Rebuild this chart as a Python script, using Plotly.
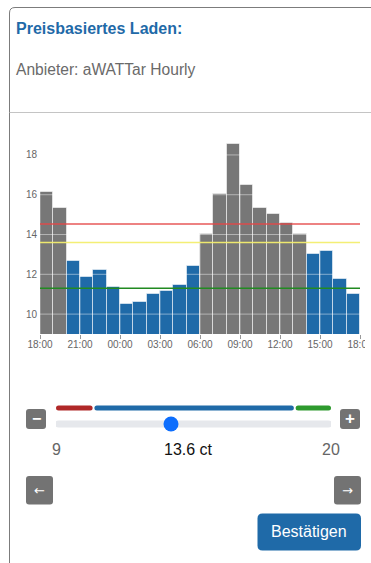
import plotly.graph_objects as go

# ---------------- data ----------------
hours = ["18:00", "19:00", "20:00", "21:00", "22:00", "23:00", "00:00", "01:00",
         "02:00", "03:00", "04:00", "05:00", "06:00", "07:00", "08:00", "09:00",
         "10:00", "11:00", "12:00", "13:00", "14:00", "15:00", "16:00", "17:00"]
prices = [16.13, 15.35, 12.65, 11.85, 12.20, 11.35, 10.50, 10.63,
          11.00, 11.15, 11.47, 12.42, 14.05, 16.05, 18.55, 16.50,
          15.35, 15.03, 14.60, 14.05, 13.03, 13.18, 11.77, 11.03]
x_tick_labels = ["18:00", "21:00", "00:00", "03:00", "06:00", "09:00", "12:00", "15:00", "18:00"]
y_ticks = [10, 12, 14, 16, 18]
upper_line = 14.53
threshold = 13.6
lower_line = 11.3
slider_min = 9
slider_max = 20
title_text = "Preisbasiertes Laden:"
provider_text = "Anbieter: aWATTar Hourly"
button_text = "Bestätigen"
unit = "ct"

# ---------------- styles ----------------
W, H = 371, 563
FONT = "Liberation Sans, Arial, Helvetica, sans-serif"
BLUE = "#1f6aa8"
GREY_BAR = "#777777"
BTN_GREY = "#737373"
x_step = 3

fig = go.Figure()

n = len(prices)
bar_x = list(range(n))
colors = [GREY_BAR if p > threshold else BLUE for p in prices]
fig.add_trace(go.Bar(
    x=bar_x, y=prices, offset=0, width=1,
    marker=dict(color=colors, line=dict(color="rgba(255,255,255,0.55)", width=1)),
    xaxis="x", yaxis="y", hoverinfo="skip", showlegend=False,
))

# grid lines drawn over the bars (as in the reference)
gx, gy = [], []
for v in y_ticks:
    gx += [0, n, None]
    gy += [v, v, None]
x_tickvals = [x_step * i for i in range(len(x_tick_labels))]
for v in x_tickvals:
    gx += [v, v, None]
    gy += [slider_min, max(prices) + 1, None]
fig.add_trace(go.Scatter(
    x=gx, y=gy, mode="lines", line=dict(color="rgba(255,255,255,0.45)", width=1),
    xaxis="x", yaxis="y", hoverinfo="skip", showlegend=False,
))

for val, col, wd in [(upper_line, "rgba(228,70,70,0.9)", 1.3),
                     (threshold, "rgba(243,238,110,0.95)", 1.6),
                     (lower_line, "#218a21", 1.3)]:
    fig.add_trace(go.Scatter(
        x=[0, n], y=[val, val], mode="lines", line=dict(color=col, width=wd),
        xaxis="x", yaxis="y", hoverinfo="skip", showlegend=False,
    ))

# slider thumb (on slider scale)
fig.add_trace(go.Scatter(
    x=[threshold], y=[424], mode="markers",
    marker=dict(size=15, color="#0d6efd", line=dict(width=0)),
    xaxis="x3", yaxis="y2", hoverinfo="skip", showlegend=False, cliponaxis=False,
))


def rrect(x0, y0, x1, y1, rx, ry=None):
    if ry is None:
        ry = rx
    return (f"M{x0+rx},{y0} L{x1-rx},{y0} Q{x1},{y0} {x1},{y0+ry} "
            f"L{x1},{y1-ry} Q{x1},{y1} {x1-rx},{y1} L{x0+rx},{y1} "
            f"Q{x0},{y1} {x0},{y1-ry} L{x0},{y0+ry} Q{x0},{y0} {x0+rx},{y0} Z")


shapes = []
# card border
shapes.append(dict(type="path", xref="x2", yref="y2",
                   path="M9.5,563 L9.5,13 Q9.5,7.5 15,7.5 L371,7.5",
                   line=dict(color="#7c7c7c", width=1), layer="below"))
shapes.append(dict(type="line", xref="x2", yref="y2", x0=9.5, x1=371, y0=112.5, y1=112.5,
                   line=dict(color="#c4c4c4", width=1), layer="below"))
# clip of the last x tick label
shapes.append(dict(type="rect", xref="x2", yref="y2", x0=365, x1=371, y0=337, y1=353,
                   fillcolor="white", line=dict(width=0), layer="above"))

# slider
px_per_unit = 275 / (slider_max - slider_min)
rx = 2.5 / px_per_unit
lo, hi = min(prices), max(prices)
gap = 0.9 / px_per_unit
for a, b, col in [(slider_min, lo - gap, "#b02828"), (lo + gap, hi - gap, BLUE),
                  (hi + gap, slider_max, "#2e9a2e")]:
    shapes.append(dict(type="path", xref="x3", yref="y2",
                       path=rrect(a, 405.5, b, 410.5, rx, 2.5),
                       fillcolor=col, line=dict(width=0), layer="below"))
shapes.append(dict(type="path", xref="x3", yref="y2",
                   path=rrect(slider_min - 1 / px_per_unit, 420.5, slider_max + 1 / px_per_unit, 427.5,
                              3.5 / px_per_unit, 3.5),
                   fillcolor="#e6e8ec", line=dict(width=0), layer="below"))

# buttons
for (x0, y0, x1, y1, col, r) in [(26, 409, 46, 429, BTN_GREY, 3),
                                 (340, 409, 360, 429, BTN_GREY, 3),
                                 (26, 476, 53, 504.5, BTN_GREY, 3),
                                 (334, 476, 361, 504.5, BTN_GREY, 3),
                                 (257.5, 513.5, 361, 550.5, BLUE, 5)]:
    shapes.append(dict(type="path", xref="x2", yref="y2", path=rrect(x0, y0, x1, y1, r),
                       fillcolor=col, line=dict(width=0), layer="below"))

annotations = []


def txt(x, y, s, size, color, xanchor="left", family=FONT, xref="x2"):
    annotations.append(dict(x=x, y=y, xref=xref, yref="y2", text=s, showarrow=False,
                            xanchor=xanchor, yanchor="middle",
                            font=dict(family=family, size=size, color=color)))


txt(14, 28, f"<b>{title_text}</b>", 16, BLUE)
txt(14, 69.5, provider_text, 15.6, "#6a6a6a")
txt(slider_min, 449, str(slider_min), 16, "#666666", "center", xref="x3")
txt(188.5, 449, f"{threshold} {unit}", 16, "#111111", "center")
txt(slider_max, 449, str(slider_max), 16, "#666666", "center", xref="x3")
txt(36, 418.5, "<b>−</b>", 16, "white", "center")
txt(350, 418.5, "<b>+</b>", 17, "white", "center")
txt(39.5, 490, "←", 13, "white", "center", family="DejaVu Sans")
txt(347.5, 490, "→", 13, "white", "center", family="DejaVu Sans")
txt(309.2, 531.5, button_text, 16, "white", "center")

fig.update_layout(
    template="none",
    width=W, height=H, autosize=False,
    margin=dict(l=0, r=0, t=0, b=0, pad=0),
    paper_bgcolor="white", plot_bgcolor="rgba(0,0,0,0)",
    showlegend=False,
    font=dict(family=FONT),
    bargap=0,
    xaxis=dict(domain=[40 / W, 360 / W], range=[0, n], anchor="y", automargin=False,
               tickmode="array", tickvals=x_tickvals, ticktext=x_tick_labels,
               ticks="outside", ticklen=4, tickcolor="#999999", tickwidth=1,
               ticklabeloverflow="allow", ticklabelstandoff=-3,
               showgrid=False, zeroline=False, showline=False,
               tickfont=dict(size=10, color="#666666", family=FONT)),
    yaxis=dict(domain=[(H - 334) / H, (H - 143) / H], range=[slider_min, max(prices) + 0.05],
               anchor="x", tickmode="array", tickvals=y_ticks, automargin=False,
               ticks="", ticklabelstandoff=2, showgrid=False, zeroline=False, showline=False,
               tickfont=dict(size=10, color="#666666", family=FONT)),
    xaxis2=dict(domain=[0, 1], range=[0, W], anchor="y2", visible=False, fixedrange=True,
                automargin=False),
    yaxis2=dict(domain=[0, 1], range=[H, 0], anchor="x2", visible=False, fixedrange=True,
                automargin=False),
    xaxis3=dict(domain=[56 / W, 331 / W], range=[slider_min, slider_max], anchor="y2",
                visible=False, fixedrange=True, automargin=False),
    shapes=shapes,
    annotations=annotations,
)

fig.write_html("out.html", config={"displayModeBar": False, "responsive": False},
               post_script="document.body.style.margin='0';document.body.style.overflow='hidden';")
